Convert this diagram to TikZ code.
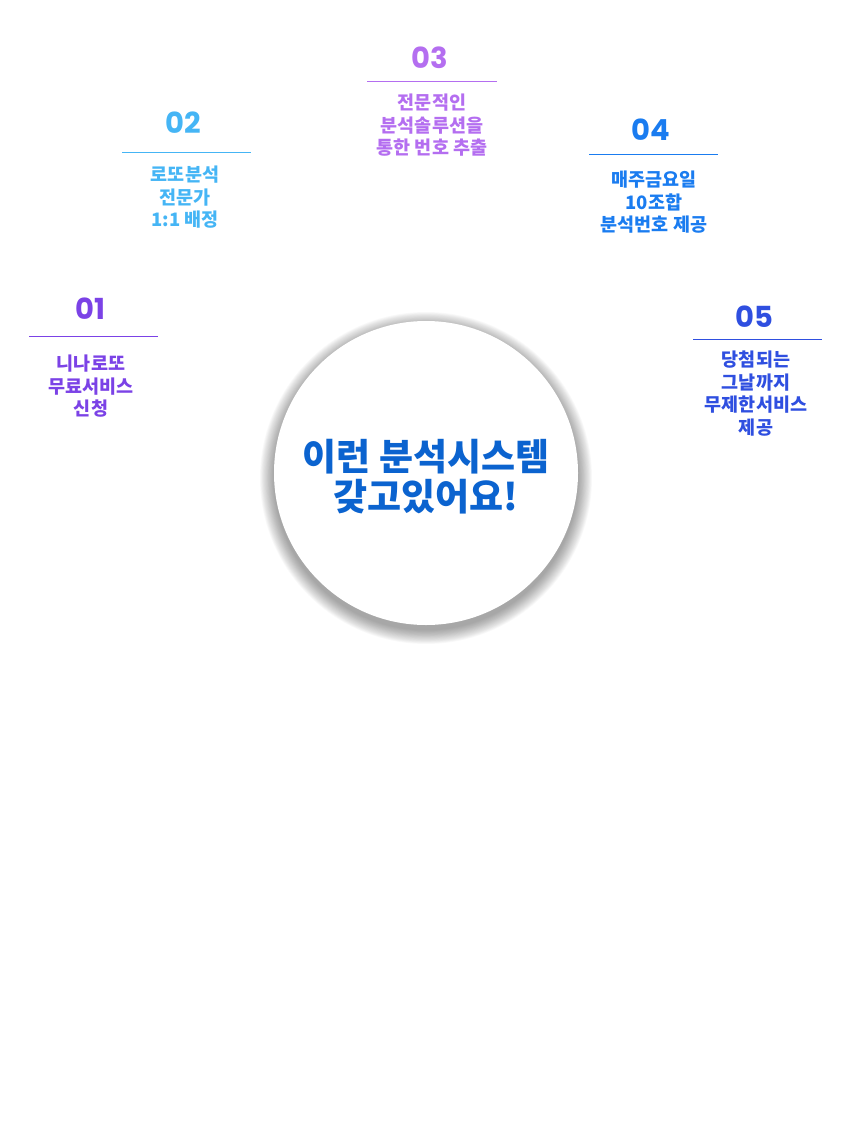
\documentclass[tikz,border=0pt]{standalone}
\usepackage{fontspec}
\setmainfont{Noto Sans CJK KR}
\newfontfamily\cjk{Noto Sans CJK KR}[BoldFont={Noto Sans CJK KR Black}]
\newfontfamily\numfont{Poppins}
\definecolor{cA}{HTML}{7B42E6}
\definecolor{cB}{HTML}{45B5F5}
\definecolor{cC}{HTML}{B46EF0}
\definecolor{cD}{HTML}{1A7CF0}
\definecolor{cE}{HTML}{2F4FE0}
\definecolor{cT}{HTML}{0B63CF}
\tikzset{
  num/.style={font=\numfont\bfseries\fontsize{29}{32}\selectfont, inner sep=0pt, anchor=center},
  desc/.style={font=\cjk\bfseries\fontsize{18.5}{22.5}\selectfont, align=center, inner sep=0pt, anchor=north},
  sep/.style={line width=1pt},
  shadowring/.style={fill=black, fill opacity=0.022, draw=none},
}
\begin{document}
\begin{tikzpicture}[x=1pt,y=-1pt]
\useasboundingbox (0,0) rectangle (850,1137);
% soft shadow
\coordinate (sc) at (426,478);
\foreach \r in {0,...,17} {
  \fill[shadowring] (sc) circle[radius={166pt-0.8pt*\r}];
}
% center circle
\node[circle, minimum size=304pt, fill=white, inner sep=0pt] (hub) at (426,473) {};
\node[font=\cjk\bfseries\fontsize{37}{40}\selectfont, text=cT, align=center, inner sep=0pt] (title) at (426,477) {이런 분석시스템\\갖고있어요!};
% 01
\node[num, text=cA] (n1) at (90,309) {01};
\coordinate (l1a) at (29,336); \coordinate (l1b) at (158,336);
\draw[sep, cA] (l1a) -- (l1b);
\node[desc, text=cA] (t1) at (91,355) {니나로또\\무료서비스\\신청};
% 02
\node[num, text=cB] (n2) at (183,123) {02};
\coordinate (l2a) at (122,152); \coordinate (l2b) at (251,152);
\draw[sep, cB] (l2a) -- (l2b);
\node[desc, text=cB] (t2) at (185,166) {로또분석\\전문가\\1:1 배정};
% 03
\node[num, text=cC] (n3) at (430,58) {03};
\coordinate (l3a) at (367,82); \coordinate (l3b) at (497,82);
\draw[sep, cC] (l3a) -- (l3b);
\node[desc, text=cC] (t3) at (432,94) {전문적인\\분석솔루션을\\통한 번호 추출};
% 04
\node[num, text=cD] (n4) at (651,130) {04};
\coordinate (l4a) at (589,154); \coordinate (l4b) at (718,154);
\draw[sep, cD] (l4a) -- (l4b);
\node[desc, text=cD] (t4) at (654,171) {매주금요일\\10조합\\분석번호 제공};
% 05
\node[num, text=cE] (n5) at (754,317) {05};
\coordinate (l5a) at (693,339); \coordinate (l5b) at (822,339);
\draw[sep, cE] (l5a) -- (l5b);
\node[desc, text=cE] (t5) at (756,351) {당첨되는\\그날까지\\무제한서비스\\제공};
\end{tikzpicture}
\end{document}
